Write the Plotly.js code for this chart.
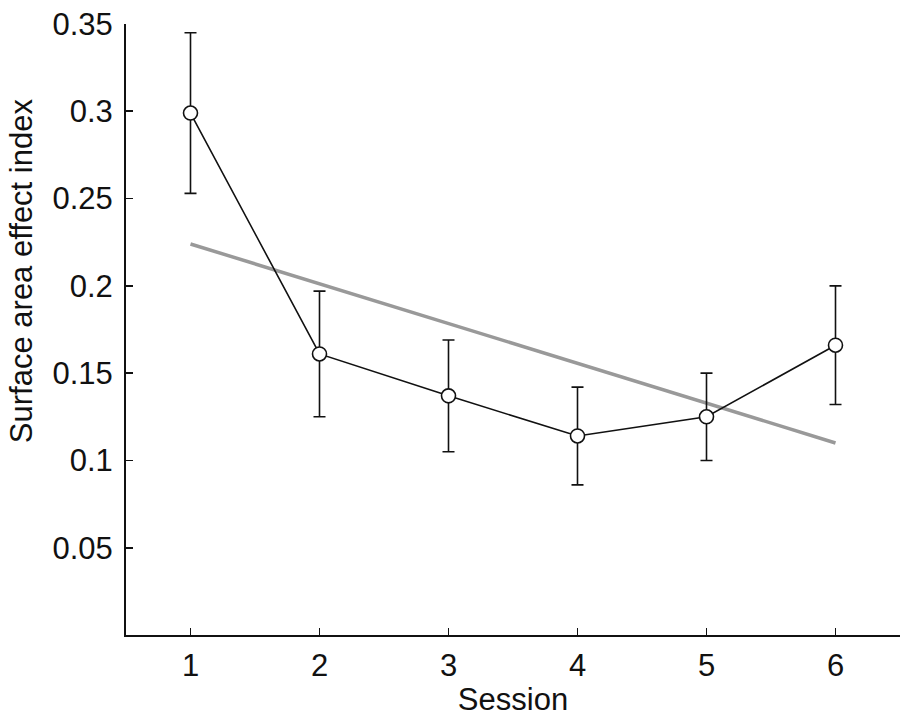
<!DOCTYPE html>
<html>
<head>
<meta charset="utf-8">
<script src="https://cdn.plot.ly/plotly-3.0.1.min.js"></script>
<style>
  html, body { margin: 0; padding: 0; background: #fff; }
  #chart { width: 913px; height: 720px; }
</style>
</head>
<body>
<div id="chart"></div>
<script>
    // --- DATA ---
    const sessions = [1, 2, 3, 4, 5, 6];
    const effectIndex = [0.299, 0.161, 0.137, 0.114, 0.125, 0.166];
    const effectError = [0.046, 0.036, 0.032, 0.028, 0.025, 0.034];
    const trendX = [1, 6];
    const trendY = [0.224, 0.110];
    const yTicks = [0.05, 0.1, 0.15, 0.2, 0.25, 0.3, 0.35];
    const yTickLabels = ['0.05', '0.1', '0.15', '0.2', '0.25', '0.3', '0.35'];

    const traces = [
        {
            x: trendX,
            y: trendY,
            mode: 'lines',
            line: { color: '#999999', width: 3.5 },
            hoverinfo: 'skip'
        },
        {
            x: sessions,
            y: effectIndex,
            mode: 'lines+markers',
            line: { color: '#111111', width: 1.6 },
            marker: { symbol: 'circle', size: 14, color: '#ffffff', line: { color: '#111111', width: 1.6 } },
            error_y: { type: 'data', array: effectError, visible: true, color: '#111111', thickness: 1.6, width: 6 }
        }
    ];

    const axisFont = { family: 'Liberation Sans, Arial, sans-serif', size: 31, color: '#111111' };

    const layout = {
        width: 913,
        height: 720,
        margin: { l: 126, r: 13, t: 24, b: 85 },
        paper_bgcolor: '#ffffff',
        plot_bgcolor: '#ffffff',
        showlegend: false,
        font: axisFont,
        xaxis: {
            range: [0.5, 6.5],
            tickvals: sessions,
            ticks: 'inside',
            ticklen: 7,
            tickwidth: 1.6,
            tickcolor: '#111111',
            showline: true,
            linecolor: '#111111',
            linewidth: 2,
            showgrid: false,
            zeroline: false,
            tickfont: axisFont,
            ticklabelstandoff: 2,
            title: { text: 'Session', font: axisFont, standoff: 6 }
        },
        yaxis: {
            range: [0, 0.35],
            tickvals: yTicks,
            ticktext: yTickLabels,
            ticks: 'inside',
            ticklen: 7,
            tickwidth: 1.6,
            tickcolor: '#111111',
            showline: true,
            linecolor: '#111111',
            linewidth: 2,
            showgrid: false,
            zeroline: false,
            tickfont: axisFont,
            ticklabelstandoff: 5
        },
        // y-axis title sits above the plot's centre in the original, so place it by hand
        annotations: [{
            text: 'Surface area effect index',
            textangle: -90,
            xref: 'paper', yref: 'paper',
            x: -0.134, y: 0.596,
            xanchor: 'center', yanchor: 'middle',
            showarrow: false,
            font: axisFont
        }]
    };

    Plotly.newPlot('chart', traces, layout, { displayModeBar: false, staticPlot: true });
</script>
</body>
</html>
